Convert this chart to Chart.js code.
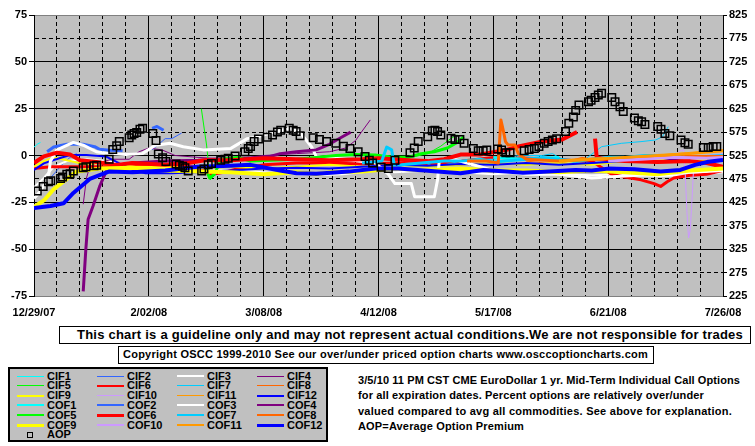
<!DOCTYPE html>
<html>
<head>
<meta charset="utf-8">
<script src="https://cdn.jsdelivr.net/npm/chart.js@4.4.1/dist/chart.umd.min.js"></script>
<style>
  body { margin: 0; background: #fff; }
  #page { position: relative; width: 755px; height: 446px; overflow: hidden; font: bold 11px "Liberation Sans", Arial, sans-serif; color: #000; }
  #chart { position: absolute; left: 0; top: 0; }
  .box { position: absolute; background: #fff; border: 1px solid #000; box-sizing: border-box; }
  .txt { position: absolute; white-space: nowrap; line-height: 1; }
  #legend { position: absolute; left: 8px; top: 367px; width: 320px; height: 75px; background: #c0c0c0; border: 2px solid #000; box-sizing: border-box; }
  .sw { position: absolute; }
</style>
</head>
<body>
<div id="page">
  <canvas id="chart" width="755" height="320"></canvas>
  <div class="box" style="left:59px;top:326px;width:692px;height:18px"></div>
  <span class="txt fit" data-w="666" style="left:77px;top:328px;font-size:13px">This chart is a guideline only and may not represent actual conditions.We are not responsible for trades</span>
  <div class="box" style="left:118px;top:346px;width:536px;height:18px"></div>
  <span class="txt fit" data-w="525" style="left:123px;top:349px">Copyright OSCC 1999-2010 See our over/under priced option charts www.osccoptioncharts.com</span>
  <div id="legend"></div>
  <span class="txt fit" data-w="382" style="left:358px;top:374.6px">3/5/10 11 PM CST CME EuroDollar 1 yr. Mid-Term Individual Call Options</span>
  <span class="txt fit" data-w="346" style="left:358px;top:390px">for all expiration dates. Percent options are relatively over/under</span>
  <span class="txt fit" data-w="374" style="left:358px;top:405.6px">valued compared to avg all commodities. See above for explanation.</span>
  <span class="txt fit" data-w="166" style="left:358px;top:421px">AOP=Average Option Premium</span>
</div>
<script>
// x = days since 12/29/07, y = percent over/under (left axis)
const xLabels = ['12/29/07', '2/02/08', '3/08/08', '4/12/08', '5/17/08', '6/21/08', '7/26/08'];

const CIF1 = [[0, 4.5], [1, 6], [2, 7]];
const CIF2 = [[5, -12], [7, -8], [9, -4], [11, -1], [13, 1], [14, null], [36, 3], [38, 6], [40, 9], [42, 9], [45, 12]];
const CIF3 = [[0, -17], [3, -12], [6, -6], [10, -3], [16, -2], [22, -3], [30, -5], [40, -6], [50, -8], [60, -8], [70, -9], [80, -10], [86, -10.5], [94, -10], [100, -9], [104, -8], [110, -9], [120, -8], [130, -9], [140, -10], [150, -9], [160, -10], [170, -10.5], [180, -10], [190, -11], [200, -10.5], [210, -9]];
const CIF4 = [[15, -26], [16, -12], [17, -6], [19, -4], [24, -2], [29, -2], [32, 2], [35, 4], [39, 3], [43, 0], [50, -1], [60, -2], [70, 0], [80, 1], [90, 2], [95, 4], [98, 8], [100, 13], [102.5, 19]];
const CIF5 = [[51, 25], [52.6, 5.6], [53.7, -13], [55.7, -9.5], [62, -9.5], [66, -9.5], [67, null], [110, -3], [115, -1], [120, 1], [124, 5], [127, 9], [129, 11]];
const CIF6 = [[0, -7], [5, -6], [10, -6], [20, -6], [30, -6], [40, -5], [48, -6], [52, -8], [54, -10], [58, -9], [62, -7], [70, -5], [80, -4], [90, -4], [100, -4.5], [110, -4], [120, -5], [130, -3], [140, -1], [150, -1.5], [160, -2], [166, -3], [170, -3], [176, -10], [180, -11.5], [185, -13], [189, -15], [191, -16.5], [193, -14], [195, -12], [200, -10.5], [205, -10], [210, -8]];
const CIF7 = [[118, -3], [122, -6], [125, -5], [130, -3], [135, -2], [140, -2], [148, 0], [155, 0], [158, 1], [161, -2], [165, -4], [168, -2], [173, 4.7], [179, 6.5], [185, 7.4], [189.5, 8.3], [191.5, 10], [193.3, 15.4]];
const CIF8 = [[150, -3], [156, -4], [161, -4], [167, -1], [175, -3.4], [185, -2.4], [195, 0.3], [203, 1.5], [210, 3]];
const CIF9 = [[0, -6], [3, -3], [6, -1], [10, -2.5], [15, -4.5], [22, -4], [30, -6], [40, -6], [50, -7], [60, -6], [70, -7], [80, -6], [90, -5], [100, -6], [110, -5], [120, -6], [130, -5], [140, -4], [150, -5], [160, -4], [170, -5], [180, -3], [190, -2], [200, -3], [210, -2]];
const CIF10 = [[185, -2], [190, -1], [195, -1], [197, 2.5], [198, 3], [198.5, -10], [199, -30], [199.5, -44], [200, -40], [200.5, -25], [201, -8], [202, -1], [205, 0], [210, 1]];
const CIF11 = [[150, -2], [165, -2.5], [180, -1.5], [195, 1], [210, 3]];
const CIF12 = [[0, -7.7], [3, -4.2], [6, -2.4], [11, 0.3], [16, 0.3], [22, -0.6], [25, -3.3], [30, -7.7], [34, -9.5], [42, -9.5], [50, -9], [60, -8], [70, -7], [80, -6.5], [90, -7], [100, -6], [110, -5], [120, -5.5], [130, -4.5], [140, -5], [150, -4], [160, -5], [170, -4], [180, -3], [190, -3.5], [195, -2], [200, -1], [205, -0.5], [210, -1]];

const COF1 = [[140, -1], [150, -2], [160, -1]];
const COF2 = [[4, 2], [6, 4.5], [10, 6], [15, 6], [18.5, 4.7], [20, 3.3], [23, 2.8], [27, 2.5], [28, null], [36, 14.5], [37.5, 15.5], [39.5, 13.5]];
const COF3 = [[0, -23], [1.5, -20], [3, -16], [4.5, -10], [5, -3], [7, 3], [12, 7], [15, 5.5], [19, 2], [23, 1], [28, 0.5], [33, 1], [37, 5.5], [41.5, 6.5], [45.5, 4.7], [51.6, 3], [60, 3.8], [65, 9], [68, 10], [72, 12], [78, 14.5], [81, 12.5], [84.6, 4.7], [86, -0.5], [95, -2], [104, -4], [108, -10], [110, -15], [115, -15], [116, -22], [122, -22], [123, -13], [123.5, -3], [127, -1.5], [132, -4], [140, -8], [150, -10], [160, -10], [170, -12], [180, -11], [190, -10], [200, -9], [210, -8]];
const COF4 = [[15, -72.5], [15.8, -50], [16.5, -34], [18, -27], [20, -16.5], [22, -8.5], [26, -5], [30, -4], [40, -3], [50, -2.5], [60, -1.5], [66, -1.5], [72, -0.5], [75, 1], [80, 2], [86, 3], [90, 6], [94, 10], [96.5, 12.5]];
const COF5 = [[52, -5], [53.5, -12], [55, -10], [57, -2], [62, -1], [66, -3], [72, -2.5], [80, -2], [86, -1], [92, 0], [98, 0.5], [104, 0.3], [110, -1], [114, -1], [118, 1], [122, 2], [126, 4], [129, 7], [131, 10]];
const COF6 = [[0, -4], [3, -0.5], [7, 1.5], [11, 0.5], [14, -2.5], [19, -3.5], [25, -5], [30, -4], [40, -5], [47, -4], [52, -2.5], [60, -2.5], [70, -1.5], [80, -2], [90, -2.5], [100, -2], [105, -1.5], [114, -2.5], [120, -3], [125, -2], [130, 0.5], [136, 0.5], [144, 3], [148, 5], [155, 7.5], [161, 8.5], [165.5, 12.5], [166, null], [171, 9], [171.5, -1], [175, -2], [180, -3], [190, -3.5], [200, -3], [205, -4], [210, -6]];
const COF7 = [[100, -4], [106, -3], [107.5, 4.5], [109, 3], [110, -7], [112, -5], [118, -4], [125, -3], [130, -3], [136, -2], [140, -3.5], [150, -2], [155, -1], [160, -2], [166, -3], [170, -2], [175, -1], [180, -1], [186, 0], [192, 0], [200, -1], [210, 0]];
const COF8 = [[132, -3], [138, -3], [141.5, -4], [142.3, 19], [143, 13.6], [143.7, 7.4], [144.5, 5.6], [146.6, 5.6], [147.6, 1], [150, -2], [160, -3], [170, -2], [180, -1.5], [190, -1], [200, -0.5], [210, -0.5]];
const COF9 = [[0, -27.5], [3, -24], [6, -18], [10, -12.5], [13, -8.5], [20, -7], [30, -6.5], [40, -8], [50, -8.5], [60, -9], [70, -10], [80, -9], [86, -10], [90, -9], [100, -8.5], [110, -7], [120, -8], [130, -7], [140, -8], [150, -8], [160, -9], [170, -8], [180, -9], [190, -10], [200, -8], [210, -7]];
const COF10 = [[175, -3], [185, -2], [195, -1], [205, -1.5], [210, -1]];
const COF11 = [[160, -3], [170, -2], [180, -1], [190, 0], [200, 1], [210, 2.5]];
const COF12 = [[0, -28], [5, -27], [9, -25.5], [12, -20], [17, -12.5], [23, -8.5], [30, -9], [40, -8], [50, -6], [60, -5.5], [66, -5], [75, -8], [80, -9.5], [86, -9.8], [96, -8.6], [104, -6.9], [111, -7], [117, -7.7], [123, -8.6], [130, -9.5], [137, -7.7], [144, -8.6], [149, -9.2], [157, -8.6], [165, -7.7], [170, -8], [175, -7], [183, -7.4], [191, -8.6], [197, -7.7], [201.5, -5], [205.5, -3.3], [210, -2.4]];

// average option premium, right axis
const aopDays = [1, 2.8, 4.4, 5.1, 8.1, 8.7, 10, 11, 12, 15, 15.8, 18.3, 19.1, 22.9, 24, 25.2, 26, 29, 29.8, 30.5, 31.3, 32.3, 33.1, 36.2, 37.2, 37.9, 39.2, 40.2, 43.3, 44.3, 45.3, 46, 47, 51.1, 51.8, 53.1, 54.1, 56.9, 58.2, 59.2, 61.3, 64.3, 65.3, 66, 67.1, 68.4, 71.1, 72.7, 74.2, 75.2, 77.8, 79, 79.9, 81.1, 85.1, 87, 89.2, 92, 94.3, 96.3, 98.8, 100.9, 102.2, 103.2, 105.8, 108, 110, 114.6, 115.9, 117.1, 120, 121.4, 122.2, 123, 124, 127.1, 128.3, 129.8, 131.1, 133.9, 135.4, 136.9, 138, 141.3, 142.5, 143.8, 145.1, 149.4, 150.9, 152.5, 153.9, 155.5, 156.7, 158, 159.3, 162, 163, 164.4, 165.1, 166.1, 169, 169.8, 171, 172, 173, 176.1, 177.1, 178.6, 179.6, 183, 184.2, 185.2, 186.2, 190.1, 191.1, 192.3, 193.8, 197.2, 198.4, 199.4, 204, 205.5, 207, 208.1];
const aopPremium = [449, 459, 469, 471, 476, 479, 485, 486, 492, 499, 501, 503, 504, 517, 538, 546, 555, 563, 569, 572, 574, 581, 583, 572, 557, 528, 520, 512, 507, 504, 502, 499, 492, 492, 496, 505, 508, 515, 517, 519, 524, 533, 540, 544, 555, 560, 564, 569, 575, 579, 583, 579, 576, 567, 563, 559, 555, 551, 545, 540, 533, 523, 515, 509, 500, 497, 515, 531, 541, 555, 565, 578, 579, 576, 569, 562, 559, 559, 551, 540, 535, 535, 537, 539, 537, 531, 531, 535, 538, 540, 544, 551, 555, 558, 561, 576, 594, 607, 621, 633, 640, 643, 649, 654, 658, 649, 640, 629, 619, 605, 599, 597, 591, 587, 581, 572, 567, 558, 552, 549, 542, 542, 544, 544];

const series = [
  { name: 'CIF1', data: CIF1, color: '#00ffff', width: 1, lw: 1 },
  { name: 'CIF2', data: CIF2, color: '#3366ff', width: 1, lw: 1 },
  { name: 'CIF3', data: CIF3, color: '#ffffff', width: 2, lw: 2 },
  { name: 'CIF4', data: CIF4, color: '#800080', width: 1, lw: 1 },
  { name: 'CIF5', data: CIF5, color: '#00ff00', width: 1, lw: 1 },
  { name: 'CIF6', data: CIF6, color: '#ff0000', width: 3, lw: 2 },
  { name: 'CIF7', data: CIF7, color: '#00ccff', width: 1, lw: 1 },
  { name: 'CIF8', data: CIF8, color: '#ff6600', width: 1, lw: 1 },
  { name: 'CIF9', data: CIF9, color: '#ffff00', width: 2, lw: 2 },
  { name: 'CIF10', data: CIF10, color: '#cc99ff', width: 1, lw: 1 },
  { name: 'CIF11', data: CIF11, color: '#ff9900', width: 1, lw: 1 },
  { name: 'CIF12', data: CIF12, color: '#0000ff', width: 2, lw: 2 },
  { name: 'COF1', data: COF1, color: '#00ffff', width: 3, lw: 2 },
  { name: 'COF2', data: COF2, color: '#3366ff', width: 3, lw: 2 },
  { name: 'COF3', data: COF3, color: '#ffffff', width: 3, lw: 2 },
  { name: 'COF4', data: COF4, color: '#800080', width: 3, lw: 2 },
  { name: 'COF5', data: COF5, color: '#00ff00', width: 3, lw: 2 },
  { name: 'COF6', data: COF6, color: '#ff0000', width: 4, lw: 3 },
  { name: 'COF7', data: COF7, color: '#00ccff', width: 3, lw: 2 },
  { name: 'COF8', data: COF8, color: '#ff6600', width: 3, lw: 2 },
  { name: 'COF9', data: COF9, color: '#ffff00', width: 4, lw: 3 },
  { name: 'COF10', data: COF10, color: '#cc99ff', width: 3, lw: 2 },
  { name: 'COF11', data: COF11, color: '#ff9900', width: 3, lw: 2 },
  { name: 'COF12', data: COF12, color: '#0000ff', width: 4, lw: 3 }
];

const datasets = series.map((s, i) => ({
  label: s.name,
  data: s.data.map(p => ({ x: p[0], y: p[1] })),
  borderColor: s.color,
  borderWidth: s.width,
  borderJoinStyle: 'round',
  pointRadius: 0,
  tension: 0,
  fill: false,
  yAxisID: 'y',
  order: -i
}));

datasets.push({
  label: 'AOP',
  data: aopDays.map((d, i) => ({ x: d, y: aopPremium[i] })),
  yAxisID: 'y2',
  showLine: false,
  pointStyle: 'rect',
  pointRadius: 5.3,
  pointBorderWidth: 1.5,
  borderColor: '#000',
  backgroundColor: 'rgba(0,0,0,0)',
  order: -100
});

const plotBg = {
  id: 'plotBg',
  beforeDraw(chart) {
    const { ctx, chartArea: a } = chart;
    ctx.save();
    ctx.fillStyle = '#c0c0c0';
    ctx.fillRect(a.left, a.top, a.right - a.left, a.bottom - a.top);
    ctx.restore();
  }
};

const bold = { family: '"Liberation Sans", Arial, sans-serif', size: 11, weight: 'bold' };

new Chart(document.getElementById('chart'), {
  type: 'line',
  data: { datasets },
  plugins: [plotBg],
  options: {
    responsive: false,
    animation: false,
    layout: { padding: { top: 15, left: 0, right: 0, bottom: 0 } },
    plugins: { legend: { display: false }, tooltip: { enabled: false } },
    scales: {
      x: {
        type: 'linear', min: 0, max: 210,
        ticks: {
          stepSize: 7, autoSkip: false, maxRotation: 0, padding: 10, color: '#000', font: bold,
          callback: v => (v % 35 === 0 ? xLabels[v / 35] : '')
        },
        grid: { color: '#000', drawTicks: false },
        border: { color: '#808080', dash: c => (c.tick && c.tick.value % 35 !== 0 ? [4, 3] : []) },
        afterFit: s => { s.height = 24; }
      },
      y: {
        position: 'left', min: -75, max: 75,
        ticks: {
          stepSize: 12.5, padding: 2, color: '#000', font: bold,
          callback: v => (v % 25 === 0 ? v : '')
        },
        grid: {
          color: c => (c.tick && Math.abs(c.tick.value) === 75 ? '#808080' : '#000'),
          tickLength: 5,
          tickColor: c => (c.tick && c.tick.value % 25 === 0 ? '#000' : 'rgba(0,0,0,0)')
        },
        border: { color: '#000', dash: c => (c.tick && c.tick.value % 25 !== 0 ? [4, 3] : []) },
        afterFit: s => { s.width = 34; }
      },
      y2: {
        position: 'right', min: 225, max: 825,
        ticks: { stepSize: 50, padding: 2, color: '#000', font: bold },
        grid: { drawOnChartArea: false, tickLength: 4, tickColor: '#000' },
        border: { color: '#000' },
        afterFit: s => { s.width = 32; }
      }
    }
  }
});

// legend box, 4 columns
const legend = document.getElementById('legend');
const rowY = r => 376 + 9.8 * r - 367 - 2;
series.forEach((s, i) => {
  const r = Math.floor(i / 4), c = i % 4;
  const line = document.createElement('div');
  line.className = 'sw';
  line.style.cssText = `left:${17 + 80 * c - 10}px;top:${rowY(r) - s.lw / 2}px;width:27px;height:${s.lw}px;background:${s.color}`;
  legend.appendChild(line);
  const lab = document.createElement('span');
  lab.className = 'txt';
  lab.textContent = s.name;
  lab.style.cssText = `left:${47 + 80 * c - 10}px;top:${rowY(r) - 5.4}px`;
  legend.appendChild(lab);
});
const sq = document.createElement('div');
sq.className = 'sw';
sq.style.cssText = `left:${27 - 10}px;top:${rowY(6) - 3}px;width:6px;height:6px;border:1.3px solid #000;box-sizing:border-box`;
legend.appendChild(sq);
const aopLab = document.createElement('span');
aopLab.className = 'txt';
aopLab.textContent = 'AOP';
aopLab.style.cssText = `left:${47 - 10}px;top:${rowY(6) - 5.4}px`;
legend.appendChild(aopLab);

// stretch text to the widths seen in the picture
document.querySelectorAll('.fit').forEach(el => {
  const w = el.getBoundingClientRect().width;
  const target = +el.dataset.w;
  el.style.letterSpacing = ((target - w) / el.textContent.length) + 'px';
});
</script>
</body>
</html>
